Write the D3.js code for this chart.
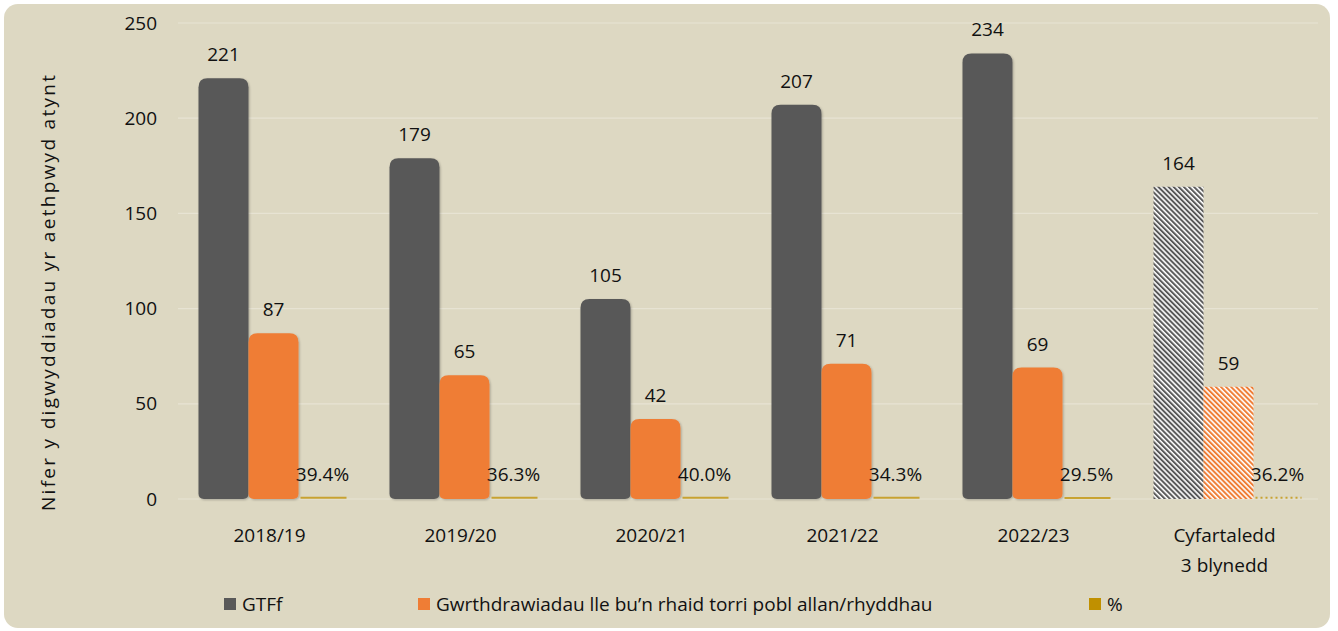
<!DOCTYPE html>
<html lang="cy">
<head>
<meta charset="UTF-8">
<title>GTFf</title>
<script src="https://cdnjs.cloudflare.com/ajax/libs/d3/7.8.5/d3.min.js"></script>
<style>
    body { margin: 0; background: #ffffff; }
    svg { display: block; font-family: "Open Sans", "Noto Sans", sans-serif; }
</style>
</head>
<body>
<div id="chart"></div>
<script>
    // data
    const categories = ['2018/19', '2019/20', '2020/21', '2021/22', '2022/23', 'Cyfartaledd\n3 blynedd'];
    const gtff = [221, 179, 105, 207, 234, 164];
    const extrications = [87, 65, 42, 71, 69, 59];
    const percent = [39.4, 36.3, 40.0, 34.3, 29.5, 36.2];
    const yTicks = [0, 50, 100, 150, 200, 250];
    const seriesNames = ['GTFf', 'Gwrthdrawiadau lle bu\u2019n rhaid torri pobl allan/rhyddhau', '%'];
    const colors = ['#595959', '#ef7d35', '#c09000'];

    const width = 1338, height = 631;
    const svg = d3.select('#chart').append('svg')
        .attr('width', width).attr('height', height);

    // hatched patterns for the average group
    const defs = svg.append('defs');
    [['hatchGrey', colors[0]], ['hatchOrange', colors[1]]].forEach(([id, c]) => {
        const p = defs.append('pattern').attr('id', id)
            .attr('patternUnits', 'userSpaceOnUse')
            .attr('width', 3.6).attr('height', 3.6)
            .attr('patternTransform', 'rotate(-45)');
        p.append('rect').attr('width', 3.6).attr('height', 3.6).attr('fill', '#ffffff');
        p.append('rect').attr('width', 2).attr('height', 3.6).attr('fill', c);
    });
    const shadow = defs.append('filter').attr('id', 'shadow')
        .attr('x', '-20%').attr('y', '-20%').attr('width', '140%').attr('height', '140%');
    shadow.append('feDropShadow').attr('dx', 1).attr('dy', 1).attr('stdDeviation', 1.2)
        .attr('flood-color', '#000').attr('flood-opacity', 0.25);

    // background panel
    svg.append('rect')
        .attr('x', 4).attr('y', 4).attr('width', 1326).attr('height', 624)
        .attr('rx', 14).attr('fill', '#ddd8c2');

    const plot = {left: 178, right: 1324, top: 23, bottom: 499};

    const x = d3.scaleBand()
        .domain(categories)
        .range([plot.left, plot.right]);

    const inner = d3.scaleBand()
        .domain([0, 1, 2])
        .range([x.bandwidth() / 2 - 75, x.bandwidth() / 2 + 75]);

    const y = d3.scaleLinear()
        .domain([0, 250])
        .range([plot.bottom, plot.top]);

    // gridlines
    svg.append('g').selectAll('line')
        .data(yTicks).enter().append('line')
        .attr('x1', plot.left).attr('x2', 1318)
        .attr('y1', d => y(d)).attr('y2', d => y(d))
        .attr('stroke', '#e7e3d3').attr('stroke-width', 1.2);

    // y axis
    const yAxis = svg.append('g')
        .attr('transform', `translate(${plot.left},0)`)
        .call(d3.axisLeft(y).tickValues(yTicks).tickSize(0).tickPadding(21));
    yAxis.select('.domain').remove();
    yAxis.selectAll('text')
        .attr('font-size', 19).attr('fill', '#111')
        .attr('font-family', '"Open Sans", sans-serif');

    svg.append('text')
        .attr('transform', 'translate(55,293) rotate(-90)')
        .attr('text-anchor', 'middle')
        .attr('font-size', 19).attr('fill', '#111')
        .attr('textLength', 436).attr('lengthAdjust', 'spacing')
        .text('Nifer y digwyddiadau yr aethpwyd atynt');

    // bars
    const last = categories.length - 1;
    const groups = svg.append('g').selectAll('g')
        .data(categories).enter().append('g')
        .attr('transform', d => `translate(${x(d)},0)`);

    groups.append('path')
        .attr('filter', (d, i) => i === last ? null : 'url(#shadow)')
        .attr('fill', (d, i) => i === last ? 'url(#hatchGrey)' : colors[0])
        .attr('d', (d, i) => barPath(inner(0), y(gtff[i]), inner.bandwidth(), y(0) - y(gtff[i]), i === last ? 0 : 9));

    groups.append('path')
        .attr('filter', (d, i) => i === last ? null : 'url(#shadow)')
        .attr('fill', (d, i) => i === last ? 'url(#hatchOrange)' : colors[1])
        .attr('d', (d, i) => barPath(inner(1), y(extrications[i]), inner.bandwidth(), y(0) - y(extrications[i]), i === last ? 0 : 9));

    // percent bars are practically flat on a 0-250 scale
    groups.append('line')
        .attr('x1', inner(2) + 2).attr('x2', inner(2) + inner.bandwidth() - 2)
        .attr('y1', (d, i) => y(percent[i] / 100) - 0.5)
        .attr('y2', (d, i) => y(percent[i] / 100) - 0.5)
        .attr('stroke', colors[2]).attr('stroke-width', 2).attr('stroke-opacity', 0.75)
        .attr('stroke-dasharray', (d, i) => i === last ? '2,3' : null);

    // value labels
    const label = (sel, vals, idx, fmt) => sel.append('text')
        .attr('x', inner(idx) + inner.bandwidth() / 2)
        .attr('y', (d, i) => y(vals[i]) - 17)
        .attr('text-anchor', 'middle')
        .attr('font-size', 19).attr('fill', '#111')
        .text((d, i) => fmt(vals[i]));
    label(groups, gtff, 0, v => v);
    label(groups, extrications, 1, v => v);
    label(groups, percent.map(p => p / 100), 2, v => (v * 100).toFixed(1) + '%')
        .attr('x', inner(2) + inner.bandwidth() / 2 - 1);

    // category labels
    groups.append('text')
        .attr('x', x.bandwidth() / 2)
        .attr('y', 542)
        .attr('text-anchor', 'middle')
        .attr('font-size', 19).attr('fill', '#111')
        .selectAll('tspan')
        .data(d => d.split('\n')).enter().append('tspan')
        .attr('x', x.bandwidth() / 2 - 4)
        .attr('dy', (d, i) => i === 0 ? 0 : 30)
        .text(d => d);

    // legend
    const legendX = [224, 418, 1089];
    const legend = svg.append('g').selectAll('g')
        .data(seriesNames).enter().append('g')
        .attr('transform', (d, i) => `translate(${legendX[i]},598)`);
    legend.append('rect')
        .attr('width', 12).attr('height', 12)
        .attr('fill', (d, i) => colors[i]);
    legend.append('text')
        .attr('x', 18).attr('y', 13)
        .attr('font-size', 19).attr('fill', '#111')
        .text(d => d);

    function barPath(bx, by, bw, bh, r) {
        const rr = Math.min(r, bh / 2);
        const br = Math.min(r * 0.6, bh / 2);
        return `M${bx},${by + rr}` +
            `Q${bx},${by} ${bx + rr},${by}` +
            `L${bx + bw - rr},${by}` +
            `Q${bx + bw},${by} ${bx + bw},${by + rr}` +
            `L${bx + bw},${by + bh - br}` +
            `Q${bx + bw},${by + bh} ${bx + bw - br},${by + bh}` +
            `L${bx + br},${by + bh}` +
            `Q${bx},${by + bh} ${bx},${by + bh - br}Z`;
    }
</script>
</body>
</html>
